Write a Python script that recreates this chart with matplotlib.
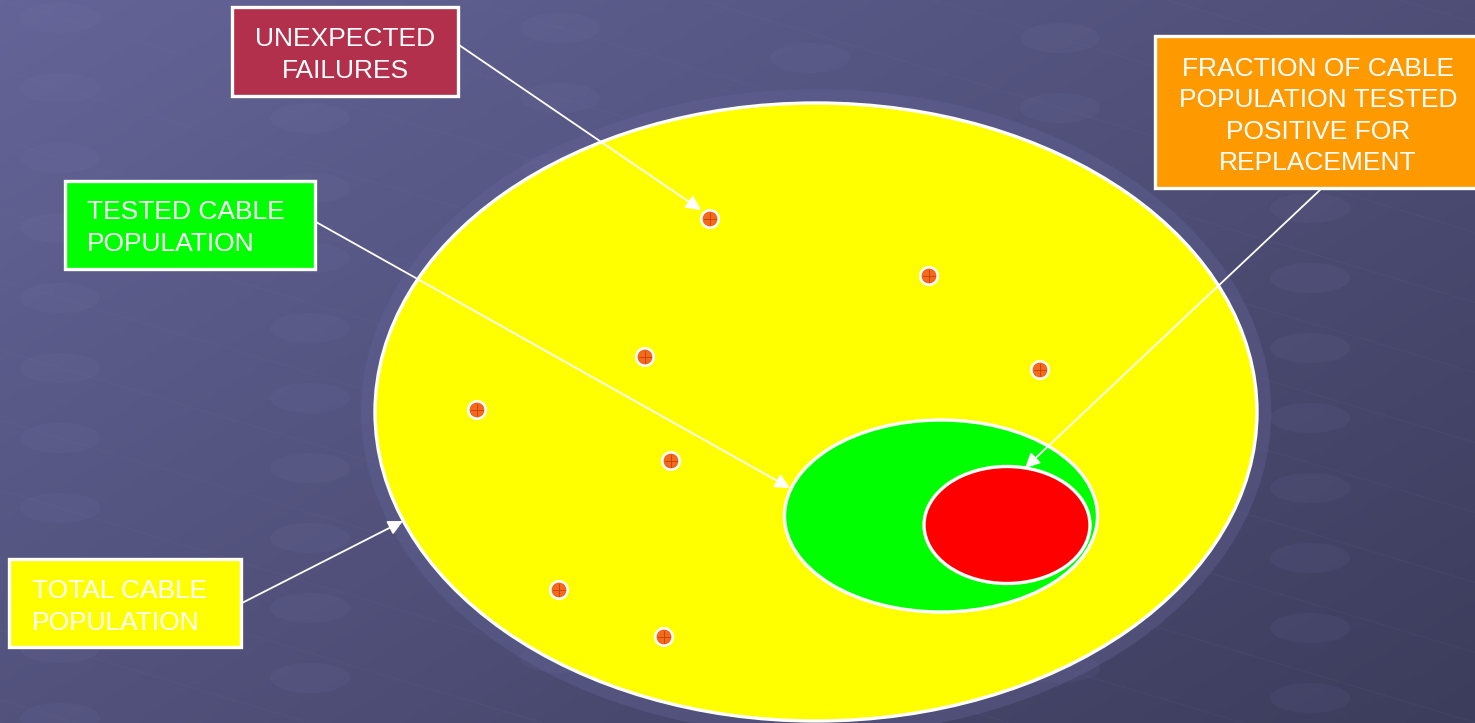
import matplotlib.pyplot as plt
import numpy as np
from matplotlib.patches import Ellipse, Rectangle, Circle

plt.rcParams['font.family'] = ['Liberation Sans', 'DejaVu Sans']

W, H = 1475, 723

# populations: centre x, centre y, width, height (pixel space)
pop_names = ['total', 'tested', 'positive']
pop_centre = [(816, 412), (941, 516), (1007, 525)]
pop_size = [(882, 618), (313, 192), (166, 117)]
pop_color = ['#ffff00', '#00ff00', '#ff0000']

# unexpected failures (scattered points)
fail_x = [710, 929, 645, 1040, 477, 671, 559, 664]
fail_y = [219, 276, 357, 370, 410, 461, 590, 637]

# label boxes: x0, y0, x1, y1
labels = ['UNEXPECTED\nFAILURES',
          'TESTED CABLE\nPOPULATION',
          'TOTAL CABLE\nPOPULATION',
          'FRACTION OF CABLE\nPOPULATION TESTED\nPOSITIVE FOR\nREPLACEMENT']
label_box = [(232, 7, 458, 96), (65, 181, 315, 269), (9, 559, 241, 647), (1155, 36, 1478, 188)]
label_color = ['#b3304c', '#00ff00', '#ffff00', '#ff9900']
label_align = ['center', 'left', 'left', 'center']
label_textx = [345, 87, 32, 1318]
label_texty = [55, 228, 607, 116]
arrow_from = [(459, 45), (316, 222), (242, 603), (1320, 190)]
arrow_to = [(701, 210), (790, 488), (403, 521), (1025, 468)]

fig = plt.figure(figsize=(W / 100, H / 100), dpi=100)
ax = fig.add_axes([0, 0, 1, 1])
ax.set_xlim(0, W)
ax.set_ylim(H, 0)
ax.axis('off')

# background gradient
gx, gy = np.meshgrid(np.linspace(0, 1, 300), np.linspace(0, 1, 150))
t = np.clip(0.55 * gx + 0.45 * gy, 0, 1)[..., None]
top = np.array([100, 100, 152]) / 255
bot = np.array([60, 60, 92]) / 255
bg = top * (1 - t) + bot * t
ax.imshow(bg, extent=(0, W, H, 0), aspect='auto', zorder=0)

# faint decorative pattern
for j in range(-6, 12):
    y0 = 70 * j
    xs = np.array([0, W])
    ax.plot(xs, y0 + 0.3 * xs, color='#8080b0', lw=0.8, alpha=0.08, zorder=1)
    for xi in range(60, W, 250):
        yi = y0 + 0.3 * xi + (xi // 250 % 2) * 25
        if 0 < yi < H:
            ax.add_patch(Ellipse((xi, yi), 80, 30, color='#8080b4', alpha=0.09, lw=0, zorder=1))

# halo around big ellipse
ax.add_patch(Ellipse(pop_centre[0], pop_size[0][0] + 28, pop_size[0][1] + 28,
                     fc='#66669a', ec='#56568a', lw=0.6, alpha=0.35, zorder=2))

for c, s, col in zip(pop_centre, pop_size, pop_color):
    ax.add_patch(Ellipse(c, s[0], s[1], fc=col, ec='white', lw=2.4, zorder=3))

for x, y in zip(fail_x, fail_y):
    ax.add_patch(Circle((x, y), 10, fc='white', ec='none', zorder=4))
    ax.add_patch(Circle((x, y), 7, fc='#f26a1b', ec='#ff5000', lw=0.5, zorder=5))
    ax.plot([x - 6, x + 6], [y, y], color='#c84000', lw=0.6, zorder=6)
    ax.plot([x, x], [y - 6, y + 6], color='#c84000', lw=0.6, zorder=6)

for txt, b, col, al, tx, ty, a0, a1 in zip(labels, label_box, label_color, label_align,
                                           label_textx, label_texty, arrow_from, arrow_to):
    ax.add_patch(Rectangle((b[0], b[1]), b[2] - b[0], b[3] - b[1],
                           fc=col, ec='white', lw=2.4, zorder=7))
    ax.text(tx, ty, txt, color='white', fontsize=19,
            ha=al, va='center', linespacing=1.4, multialignment=al, zorder=8)
    ax.annotate('', xy=a1, xytext=a0, zorder=6,
                arrowprops=dict(arrowstyle='-|>', color='white', lw=1.3,
                                mutation_scale=22, shrinkA=0, shrinkB=0))

fig.savefig('out.png', dpi=100)
